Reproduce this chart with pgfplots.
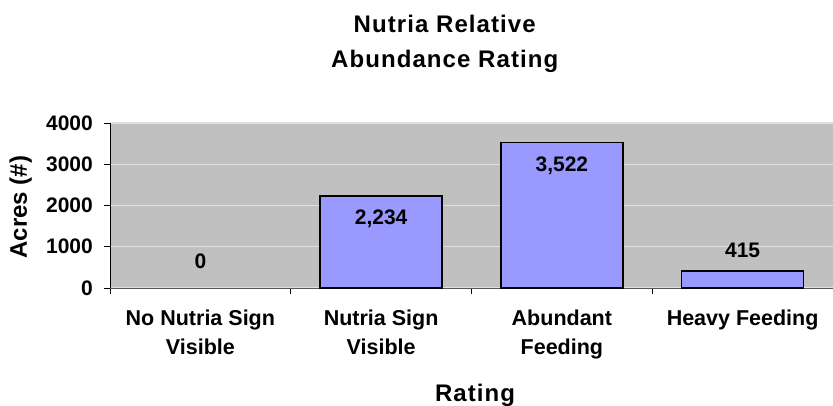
\documentclass[border=0pt]{standalone}
\usepackage{pgfplots}
\pgfplotsset{compat=1.18}
\usepackage{fontspec}
\setmainfont{Liberation Sans}
\newfontfamily\titlefont[LetterSpace=4.5]{Liberation Sans}
\definecolor{plotbg}{HTML}{C0C0C0}
\definecolor{barfill}{HTML}{9999FF}
\definecolor{gridc}{HTML}{E0E0E0}
\begin{document}
\begin{tikzpicture}
\path[use as bounding box] (-110pt,-117pt) rectangle (723pt,288pt);
\begin{axis}[
  at={(0,0)}, anchor=south west,
  scale only axis,
  width=723pt, height=165pt,
  xmin=-0.5, xmax=3.5,
  ymin=0, ymax=4000,
  axis background/.style={fill=plotbg},
  axis x line*=bottom, axis y line*=left,
  x axis line style={draw=black!65, line width=1pt},
  y axis line style={draw=black, line width=0.8pt},
  xtick={0,1,2,3},
  xticklabels={{No Nutria Sign\\Visible},{Nutria Sign\\Visible},{Abundant\\Feeding},{Heavy Feeding}},
  minor xtick={-0.5,0.5,1.5,2.5,3.5},
  xtick style={draw=none},
  minor tick length=6pt,
  minor x tick style={draw=black, line width=0.8pt},
  tick align=outside,
  ytick={0,1000,2000,3000,4000},
  ytick style={draw=black, line width=0.8pt},
  major tick length=6pt,
  ymajorgrids, grid style={draw=gridc, line width=1.4pt},
  /pgf/number format/assume math mode=true,
  /pgf/number format/1000 sep={},
  yticklabel style={font=\fontsize{21}{25}\selectfont\bfseries, inner sep=0pt, xshift=-11pt},
  xticklabel style={font=\fontsize{21.5}{29}\selectfont\bfseries, align=center, anchor=north, yshift=-12pt},
  xlabel={Rating},
  xlabel style={font=\titlefont\fontsize{24}{28}\selectfont\bfseries, anchor=base, at={(axis description cs:0.505,0)}, yshift=-113pt},
  ylabel={Acres (\#)},
  ylabel style={font=\fontsize{24}{28}\selectfont\bfseries, anchor=base, at={(axis description cs:-0.1148,0.49)}},
  clip=false,
]
\addplot[ybar, bar width=0.675, fill=barfill, draw=black, line width=1.3pt, bar shift=0pt]
  coordinates {(1,2234) (2,3522) (3,415)};
\addplot[draw=none, mark=none, nodes near coords, point meta=explicit symbolic,
  nodes near coords align=center,
  every node near coord/.append style={font=\fontsize{21}{25}\selectfont\bfseries, anchor=center}]
  table[meta=label, row sep=\\] {
  x y label\\
  0 655 0\\
  1 1673 {2,234}\\
  2 2965 {3,522}\\
  3 905 415\\
};
\node[font=\titlefont\fontsize{24}{35}\selectfont\bfseries, align=center, anchor=base]
  at (rel axis cs:0.463,1) [yshift=56pt] {Nutria Relative\\Abundance Rating};
\end{axis}
\end{tikzpicture}
\end{document}
